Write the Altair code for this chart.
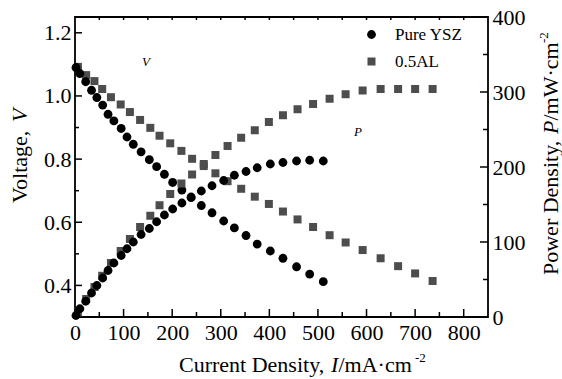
import altair as alt
import pandas as pd

# Pure YSZ cell: current density (mA/cm2), voltage (V), power density (mW/cm2)
ysz_i = [2, 10, 22, 34, 45, 57, 68, 80, 95, 107, 120, 136, 153, 168, 184, 201, 220, 239,
         260, 282, 306, 328, 352, 375, 402, 428, 456, 483, 511]
ysz_v = [1.090, 1.071, 1.045, 1.018, 0.995, 0.971, 0.942, 0.921, 0.897, 0.870, 0.847, 0.823,
         0.798, 0.776, 0.752, 0.726, 0.702, 0.678, 0.653, 0.630, 0.604, 0.582, 0.558, 0.531,
         0.509, 0.486, 0.459, 0.436, 0.412]
ysz_p = [2, 11, 21, 32, 42, 52, 62, 72, 82, 91, 100, 110, 118, 127, 136, 144, 152, 160,
         168, 175, 182, 189, 194, 199, 204, 206, 208, 209, 208]

# 0.5AL cell
al_i = [6, 23, 40, 56, 74, 94, 113, 134, 155, 174, 196, 219, 241, 265, 289, 314, 342, 370,
        399, 428, 458, 490, 524, 557, 592, 629, 665, 700, 736]
al_v = [1.092, 1.066, 1.047, 1.022, 0.996, 0.973, 0.949, 0.924, 0.899, 0.874, 0.850, 0.826,
        0.801, 0.778, 0.755, 0.730, 0.706, 0.681, 0.658, 0.634, 0.609, 0.585, 0.559, 0.536,
        0.512, 0.486, 0.461, 0.438, 0.414]
al_p = [6, 24, 40, 55, 72, 88, 104, 120, 135, 149, 164, 178, 190, 204, 216, 228, 239, 249,
        260, 269, 277, 284, 291, 297, 302, 304, 304, 304, 304]

samples = ["Pure YSZ", "0.5AL"]
x_major = [0, 100, 200, 300, 400, 500, 600, 700, 800]
x_minor = [50, 150, 250, 350, 450, 550, 650, 750]
x_top = [50, 100, 150, 200, 250, 300, 350, 400, 450, 500, 550, 600, 650, 700, 750, 800]
v_major = [0.4, 0.6, 0.8, 1.0, 1.2]
v_minor = [0.5, 0.7, 0.9, 1.1]
p_major = [100, 200, 300]
p_minor = [50, 150, 250, 350]

W, H = 413, 300
SERIF = "Liberation Serif"

# squares first so the circles sit on top where they overlap
df = pd.concat([
    pd.DataFrame({"I": al_i, "V": al_v, "P": al_p, "sample": "0.5AL"}),
    pd.DataFrame({"I": ysz_i, "V": ysz_v, "P": ysz_p, "sample": "Pure YSZ"}),
], ignore_index=True)

x_scale = alt.Scale(domain=[0, 850], nice=False, zero=False)
v_scale = alt.Scale(domain=[0.3, 1.25], nice=False, zero=False)
p_scale = alt.Scale(domain=[0, 400], nice=False, zero=False)

x_axis = alt.Axis(values=x_major, format="d", title=None, ticks=False, domain=False,
                  grid=False, labelFont=SERIF, labelFontSize=22, labelColor="black",
                  labelPadding=5, labelFlush=False, labelOverlap=False)
x_enc = alt.X("I:Q", scale=x_scale, axis=x_axis)

legend = alt.Legend(orient="none", legendX=288, legendY=9, title=None, padding=0,
                    labelFont=SERIF, labelFontSize=17, labelColor="black",
                    rowPadding=9, labelOffset=15, symbolStrokeWidth=0)
color = alt.Color("sample:N", scale=alt.Scale(domain=samples, range=["#000000", "#4d4d4d"]),
                  legend=legend)
shape = alt.Shape("sample:N", scale=alt.Scale(domain=samples, range=["circle", "square"]),
                  legend=legend)
size = alt.Size("sample:N", scale=alt.Scale(domain=samples, range=[78, 64]), legend=legend)

base = alt.Chart(df).mark_point(filled=True, opacity=1, strokeWidth=0)

voltage = base.encode(
    x=x_enc,
    y=alt.Y("V:Q", scale=v_scale,
            axis=alt.Axis(orient="left", values=v_major, format=".1f", title=None,
                          ticks=False, domain=False, grid=False, labelFont=SERIF,
                          labelFontSize=22, labelColor="black", labelPadding=4,
                          labelFlush=False, labelOverlap=False)),
    color=color, shape=shape, size=size,
)

power = base.encode(
    x=x_enc,
    y=alt.Y("P:Q", scale=p_scale,
            axis=alt.Axis(orient="right", values=[0, 100, 200, 300, 400], format="d",
                          title=None, ticks=False, domain=False, grid=False,
                          labelFont=SERIF, labelFontSize=22, labelColor="black",
                          labelPadding=4, labelFlush=False, labelOverlap=False)),
    color=color, shape=shape, size=size,
)


def x_ticks(values, y0, y1):
    return alt.Chart(pd.DataFrame({"I": values})).mark_rule(
        color="black", strokeWidth=1.5).encode(x=x_enc, y=alt.value(y0), y2=alt.value(y1))


def y_ticks(values, field, scale, x0, x1):
    return alt.Chart(pd.DataFrame({field: values})).mark_rule(
        color="black", strokeWidth=1.5).encode(
        y=alt.Y(f"{field}:Q", scale=scale, axis=None), x=alt.value(x0), x2=alt.value(x1))


def label(text, x, y, size=22, italic=False, angle=0, align="left"):
    return alt.Chart(alt.Data(values=[{}])).mark_text(
        text=text, font=SERIF, fontSize=size, fontStyle="italic" if italic else "normal",
        angle=angle, align=align, baseline="alphabetic", color="black",
    ).encode(x=alt.value(x), y=alt.value(y))


layers = [
    voltage,
    power,
    x_ticks(x_major, H, H - 8),
    x_ticks(x_minor, H, H - 5),
    x_ticks(x_top, 0, 3),
    y_ticks(v_major, "V", v_scale, 0, 7),
    y_ticks(v_minor, "V", v_scale, 0, 4),
    y_ticks(p_major, "P", p_scale, W, W - 8),
    y_ticks(p_minor, "P", p_scale, W, W - 5),
    # curve annotations
    label("V", 71, 49, size=13, italic=True, align="center"),
    label("P", 283, 119, size=13, italic=True, align="center"),
    # x axis title
    label("Current Density,", 104, 355),
    label("I", 256, 355, italic=True),
    label("/mA·cm", 263.5, 355),
    label("-2", 340, 345, size=13),
    # left axis title
    label("Voltage,", -48, 186, angle=270),
    label("V", -48, 105, italic=True, angle=270),
    # right axis title
    label("Power Density,", 483, 258, angle=270),
    label("P", 483, 117, italic=True, angle=270),
    label("/mW·cm", 483, 103.5, angle=270),
    label("-2", 473, 26, size=13, angle=270),
]

chart = alt.layer(*layers).resolve_scale(y="independent").properties(
    width=W, height=H,
    autosize=alt.AutoSizeParams(type="none"),
    padding={"left": 75, "top": 17, "right": 74, "bottom": 62},
    background="white",
).configure_view(stroke="black", strokeWidth=1.8)

chart.save("out.html", embed_options={"renderer": "svg", "actions": False})
